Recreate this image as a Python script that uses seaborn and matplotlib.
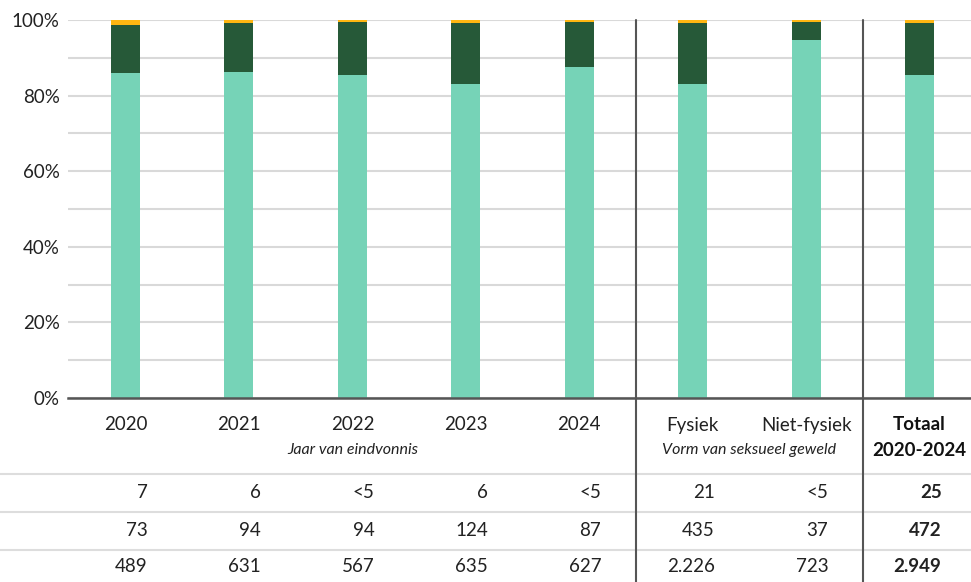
import numpy as np
import pandas as pd
import seaborn as sns
import matplotlib.pyplot as plt
from matplotlib.lines import Line2D
import matplotlib.transforms as mtransforms

# Categorieën en aantallen (tabel onder de grafiek)
categorieen = ['2020', '2021', '2022', '2023', '2024', 'Fysiek', 'Niet-fysiek', 'Totaal\n2020-2024']
geel = [7, 6, 3, 6, 3, 21, 4, 25]            # "<5" geschat
donker = [73, 94, 94, 124, 87, 435, 37, 472]
licht = [489, 631, 567, 635, 627, 2226, 723, 2949]

rij_geel = ['7', '6', '<5', '6', '<5', '21', '<5', '25']
rij_donker = ['73', '94', '94', '124', '87', '435', '37', '472']
rij_licht = ['489', '631', '567', '635', '627', '2.226', '723', '2.949']

kleur_licht = '#76d3b7'
kleur_donker = '#265938'
kleur_geel = '#ffb612'

df = pd.DataFrame({'cat': categorieen, 'geel': geel, 'donker': donker, 'licht': licht})
df['totaal'] = df['geel'] + df['donker'] + df['licht']
df['p_licht'] = df['licht'] / df['totaal'] * 100
df['p_donker'] = (df['licht'] + df['donker']) / df['totaal'] * 100
df['p_geel'] = 100.0

sns.set_style('white')
plt.rcParams['font.family'] = ['Lato', 'DejaVu Sans']

fig = plt.figure(figsize=(9.71, 5.82), dpi=100)
ax = fig.add_axes([68 / 971, 1 - 398 / 582, 1 - 68 / 971, 378 / 582])

# Gestapelde balken: van boven naar beneden tekenen
for kol, kleur in [('p_geel', kleur_geel), ('p_donker', kleur_donker), ('p_licht', kleur_licht)]:
    sns.barplot(data=df, x='cat', y=kol, color=kleur, width=0.255, ax=ax,
                saturation=1, linewidth=0, zorder=3)

ax.set_xlim(-0.507, 7.454)
ax.set_ylim(0, 100)
ax.set_yticks(range(0, 101, 20))
ax.set_yticklabels([f'{v}%' for v in range(0, 101, 20)], fontsize=13.5, color='#222222')
ax.set_yticks(range(10, 100, 20), minor=True)
ax.grid(axis='y', which='both', color='#d9d9d9', linewidth=1.5, zorder=0)
ax.tick_params(axis='y', length=0, pad=6)
ax.set_xlabel('')
ax.set_ylabel('')
ax.set_xticks([])
for s in ['top', 'right', 'left']:
    ax.spines[s].set_visible(False)
ax.spines['bottom'].set_color('#555555')
ax.spines['bottom'].set_linewidth(1.8)
ax.spines['bottom'].set_zorder(4)

trans = mtransforms.blended_transform_factory(ax.transData, fig.transFigure)

# Categorielabels
for i, c in enumerate(categorieen):
    if i == 7:
        ax.text(i, 1 - 425 / 582, 'Totaal', transform=trans, ha='center', va='center',
                fontsize=13.5, fontweight='bold', color='#111111')
        ax.text(i, 1 - 451 / 582, '2020-2024', transform=trans, ha='center', va='center',
                fontsize=13.5, fontweight='bold', color='#111111')
    else:
        ax.text(i, 1 - 425 / 582, c, transform=trans, ha='center', va='center',
                fontsize=13.5, color='#222222')

ax.text(2, 1 - 450 / 582, 'Jaar van eindvonnis', transform=trans, ha='center', va='center',
        fontsize=11.5, style='italic', color='#222222')
ax.text(5.5, 1 - 450 / 582, 'Vorm van seksueel geweld', transform=trans, ha='center', va='center',
        fontsize=11.5, style='italic', color='#222222')

# Scheidingslijnen tussen groepen
for xpos in [4.5, 6.5]:
    ax.add_line(Line2D([xpos, xpos], [1 - 20 / 582, 0], transform=trans, color='#555555',
                       linewidth=1.5, clip_on=False, zorder=5))

# Tabel onder de grafiek
for ypix in [474, 512, 550]:
    fig.add_artist(Line2D([0, 1], [1 - ypix / 582] * 2, color='#dddddd', linewidth=1.5, zorder=0))

for rij, ypix in [(rij_geel, 492), (rij_donker, 530), (rij_licht, 567)]:
    for i, t in enumerate(rij):
        ax.text(i + 0.195, 1 - ypix / 582, t, transform=trans, ha='right', va='center',
                fontsize=13.5, color='#222222', fontweight='bold' if i == 7 else 'normal')

fig.savefig('out.png', dpi=100)
